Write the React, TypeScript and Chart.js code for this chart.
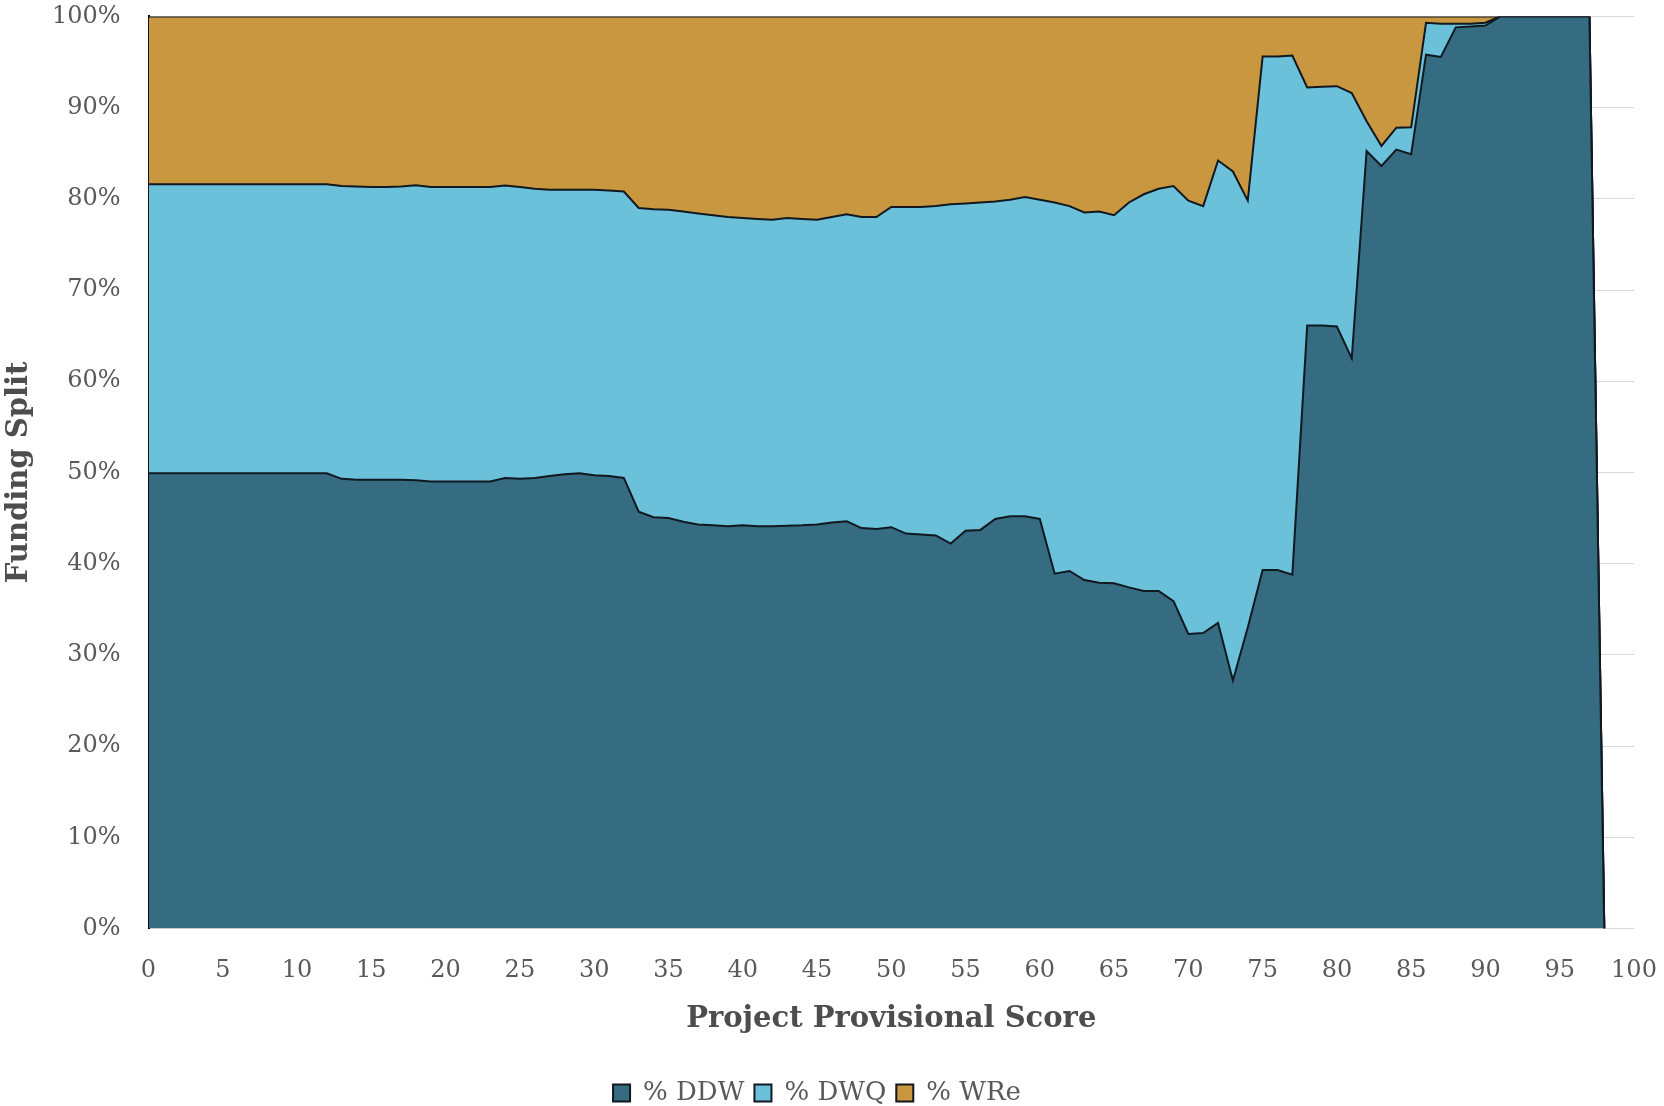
import React, { useEffect, useRef } from 'react';
import { Chart, registerables } from 'chart.js';

Chart.register(...registerables);

const scores = [
  0, 1, 2, 3, 4, 5, 6, 7, 8, 9, 10, 11, 12, 13, 14, 15, 16, 17, 18, 19,
  20, 21, 22, 23, 24, 25, 26, 27, 28, 29, 30, 31, 32, 33, 34, 35, 36, 37, 38, 39,
  40, 41, 42, 43, 44, 45, 46, 47, 48, 49, 50, 51, 52, 53, 54, 55, 56, 57, 58, 59,
  60, 61, 62, 63, 64, 65, 66, 67, 68, 69, 70, 71, 72, 73, 74, 75, 76, 77, 78, 79,
  80, 81, 82, 83, 84, 85, 86, 87, 88, 89, 90, 91, 92, 93, 94, 95, 96, 97, 98,
];

const ddw = [
  49.9, 49.9, 49.9, 49.9, 49.9, 49.9, 49.9, 49.9, 49.9, 49.9, 49.9, 49.9, 49.9, 49.3, 49.2, 49.2, 49.2, 49.2, 49.15, 49.0,
  49.0, 49.0, 49.0, 49.0, 49.4, 49.3, 49.4, 49.6, 49.8, 49.9, 49.7, 49.6, 49.4, 45.7, 45.1, 45.0, 44.6, 44.3, 44.2, 44.1,
  44.2, 44.1, 44.1, 44.15, 44.2, 44.3, 44.5, 44.65, 43.9, 43.8, 44.0, 43.3, 43.2, 43.1, 42.2, 43.6, 43.7, 44.9, 45.2, 45.2,
  44.9, 38.9, 39.2, 38.2, 37.9, 37.85, 37.4, 37.0, 37.0, 35.9, 32.3, 32.4, 33.5, 27.2, 33.0, 39.3, 39.3, 38.8, 66.1, 66.1,
  66.0, 62.5, 85.25, 83.6, 85.4, 84.9, 95.8, 95.55, 98.8, 98.9, 99.0, 100, 100, 100, 100, 100, 100, 100, 0,
];

const dwq = [
  31.7, 31.7, 31.7, 31.7, 31.7, 31.7, 31.7, 31.7, 31.7, 31.7, 31.7, 31.7, 31.7, 32.1, 32.15, 32.1, 32.1, 32.15, 32.35, 32.3,
  32.3, 32.3, 32.3, 32.3, 32.05, 32.0, 31.7, 31.4, 31.2, 31.1, 31.3, 31.3, 31.4, 33.3, 33.75, 33.8, 34.0, 34.1, 34.0, 33.9,
  33.7, 33.7, 33.6, 33.75, 33.6, 33.4, 33.5, 33.65, 34.1, 34.2, 35.1, 35.8, 35.9, 36.1, 37.2, 35.9, 35.9, 34.8, 34.7, 35.0,
  35.0, 40.7, 40.0, 40.3, 40.7, 40.35, 42.2, 43.5, 44.1, 45.5, 47.5, 46.8, 50.7, 55.8, 46.8, 56.3, 56.3, 56.9, 26.1, 26.2,
  26.35, 29.1, 3.25, 2.2, 2.4, 2.95, 3.5, 3.65, 0.4, 0.3, 0.3, 0, 0, 0, 0, 0, 0, 0, 0,
];

const wre = [
  18.4, 18.4, 18.4, 18.4, 18.4, 18.4, 18.4, 18.4, 18.4, 18.4, 18.4, 18.4, 18.4, 18.6, 18.65, 18.7, 18.7, 18.65, 18.5, 18.7,
  18.7, 18.7, 18.7, 18.7, 18.55, 18.7, 18.9, 19.0, 19.0, 19.0, 19.0, 19.1, 19.2, 21.0, 21.15, 21.2, 21.4, 21.6, 21.8, 22.0,
  22.1, 22.2, 22.3, 22.1, 22.2, 22.3, 22.0, 21.7, 22.0, 22.0, 20.9, 20.9, 20.9, 20.8, 20.6, 20.5, 20.4, 20.3, 20.1, 19.8,
  20.1, 20.4, 20.8, 21.5, 21.4, 21.8, 20.4, 19.5, 18.9, 18.6, 20.2, 20.8, 15.8, 17.0, 20.2, 4.4, 4.4, 4.3, 7.8, 7.7,
  7.65, 8.4, 11.5, 14.2, 12.2, 12.15, 0.7, 0.8, 0.8, 0.8, 0.7, 0, 0, 0, 0, 0, 0, 0, 0,
];

const seriesNames = ['% DDW', '% DWQ', '% WRe'];
const seriesColors = ['#356c81', '#6bc1da', '#c8973f'];
const xTitle = 'Project Provisional Score';
const yTitle = 'Funding Split';

export default function App() {
  const canvasRef = useRef<HTMLCanvasElement | null>(null);

  useEffect(() => {
    const canvas = canvasRef.current;
    if (!canvas) return;
    const series = [ddw, dwq, wre];
    const chart = new Chart(canvas, {
      type: 'line',
      data: {
        datasets: series.map((vals, si) => ({
          label: seriesNames[si],
          data: scores.map((s, i) => ({ x: s, y: vals[i] })),
          backgroundColor: seriesColors[si],
          borderColor: '#111820',
          borderWidth: 2,
          pointRadius: 0,
          tension: 0,
          fill: si === 0 ? 'origin' : '-1',
        })),
      },
      options: {
        responsive: false,
        animation: false,
        events: [],
        layout: { padding: { left: 0, right: 30, top: 15, bottom: -10 } },
        plugins: {
          tooltip: { enabled: false },
          legend: {
            position: 'bottom',
            labels: {
              boxWidth: 17,
              boxHeight: 17,
              padding: 10,
              color: '#595959',
              font: { family: 'DejaVu Serif', size: 26 },
            },
          },
        },
        scales: {
          x: {
            type: 'linear',
            min: 0,
            max: 100,
            ticks: {
              stepSize: 5,
              autoSkip: false,
              maxRotation: 0,
              padding: 2,
              color: '#595959',
              font: { family: 'DejaVu Serif', size: 24 },
            },
            grid: { display: false, drawTicks: true, tickLength: 26 },
            border: { display: false },
            title: {
              display: true,
              text: xTitle,
              color: '#4d4d4d',
              font: { family: 'DejaVu Serif', size: 29, weight: 'bold' },
              padding: { top: 0, bottom: 33 },
            },
            afterFit: (s: any) => {
              s.height = 141.5;
            },
          },
          y: {
            stacked: true,
            min: 0,
            max: 100,
            ticks: {
              stepSize: 10,
              padding: 2,
              color: '#595959',
              font: { family: 'DejaVu Serif', size: 24 },
              callback: (v: any) => v + '%',
            },
            grid: { color: '#d9d9d9', drawTicks: true, tickLength: 26, tickColor: 'rgba(0,0,0,0)' },
            border: { display: true, color: '#000000', width: 2 },
            title: {
              display: true,
              text: yTitle,
              color: '#4d4d4d',
              font: { family: 'DejaVu Serif', size: 29, weight: 'bold' },
              padding: { top: 2, bottom: 0 },
            },
            afterFit: (s: any) => {
              s.width = 148.5;
            },
          },
        },
      },
    });
    return () => chart.destroy();
  }, []);

  return (
    <div style={{ position: 'fixed', left: 0, top: 0, width: 1664, height: 1106, background: '#ffffff' }}>
      <canvas ref={canvasRef} width={1664} height={1106} style={{ display: 'block', width: 1664, height: 1106 }} />
    </div>
  );
}
